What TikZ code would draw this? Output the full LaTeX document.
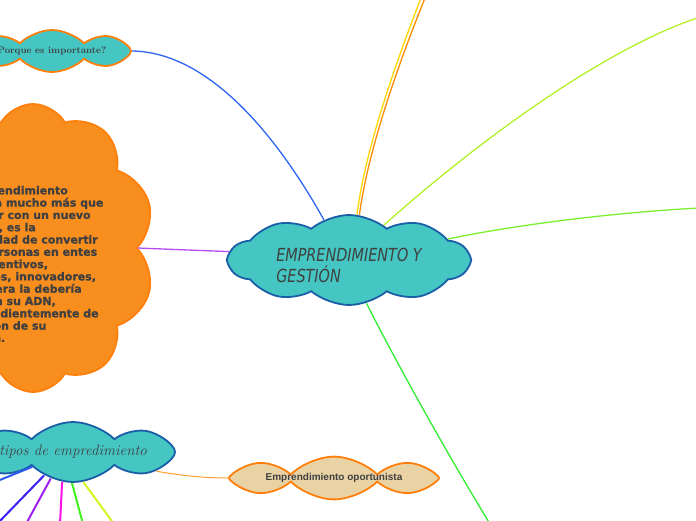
\documentclass[tikz,border=0pt]{standalone}
\usepackage{fontspec}
\setsansfont{Liberation Sans}
\newfontfamily\handfont{DejaVu Sans}[FakeStretch=0.8]
\newfontfamily\ideafont{DejaVu Sans}[FakeBold=1.2]
\usetikzlibrary{shapes.symbols}

\definecolor{mmteal}{HTML}{45C6C2}
\definecolor{mmblue}{HTML}{1A5EA8}
\definecolor{mmorange}{HTML}{FF7F0A}
\definecolor{mmfill}{HTML}{F78E1E}
\definecolor{mmtan}{HTML}{E9D3A5}
\definecolor{mmink}{HTML}{404040}

\tikzset{
  cloudnode/.style={cloud, cloud puffs=8, cloud puff arc=90, shape border rotate=22.5,
    cloud ignores aspect, draw, line width=1.8pt, inner sep=0pt, text=mmink},
  tealcloud/.style={cloudnode, fill=mmteal, draw=mmblue},
  link/.style={line width=1.3pt},
  twig/.style={line width=2pt},
}

\begin{document}
\begin{tikzpicture}[x=1pt,y=-1pt]
  \clip (0,0) rectangle (696,520);
  % topics
  \node[tealcloud, cloud puffs=10, cloud puff arc=80, shape border rotate=18,
    minimum width=240pt, minimum height=90pt, align=left,
    font=\handfont\itshape\fontsize{18}{21}\selectfont] (main) at (349,260)
    {\rule{0pt}{24pt}EMPRENDIMIENTO Y\\GESTIÓN};
  \node[cloudnode, fill=mmteal, draw=mmorange, minimum width=158pt,
    minimum height=42pt, font=\bfseries\fontsize{9.5}{11}\selectfont] (why) at (52,51)
    {Porque es importante?};
  \node[cloudnode, fill=mmfill, draw=mmorange, cloud puffs=10, cloud puff arc=120,
    shape border rotate=0, minimum width=244pt, minimum height=288pt] (idea) at (33,248) {};
  \node[anchor=west, inner sep=0pt, align=left, text=mmink,
    font=\ideafont\bfseries\fontsize{11}{12.3}\selectfont] (ideatext) at (-50,264)
    {El emprendimiento\\significa mucho más que\\empezar con un nuevo\\negocio, es la\\
     posibilidad de convertir\\a las personas en entes\\más inventivos,\\
     creativos, innovadores,\\cualquiera la debería\\tener en su ADN,\\
     independientemente de\\profesión de su\\elección.};
  \node[tealcloud, minimum width=204pt, minimum height=60pt,
    font=\itshape\fontsize{15}{18}\selectfont] (types) at (73,452) {tipos de empredimiento};
  \node[cloudnode, fill=mmtan, draw=mmorange, minimum width=210pt,
    minimum height=40pt, font=\sffamily\bfseries\fontsize{10}{12}\selectfont] (oport)
    at (334,478) {Emprendimiento oportunista};

  % free ends at the edges
  \coordinate (edgeY) at (421,-2);
  \coordinate (edgeO) at (425,-2);
  \coordinate (edgeLime) at (700,17);
  \coordinate (edgeGreen) at (700,208);
  \coordinate (edgeDown) at (490,524);
  \coordinate (tw1) at (-10,484);
  \coordinate (tw2) at (-3,524);
  \coordinate (tw3) at (26,524);
  \coordinate (tw4) at (60,524);
  \coordinate (tw5) at (83,524);
  \coordinate (tw6) at (114,524);

  % connectors
  \draw[link, draw={rgb,255:red,46;green,100;blue,240}] (why.east) .. controls (215,52) and (285,150) .. (main.122);
  \draw[link, draw={rgb,255:red,180;green,76;blue,240}] (idea.east) -- (main.176);
  \draw[link, draw={rgb,255:red,255;green,215;blue,0}] (main.80) .. controls (365,150) and (395,65) .. (edgeY);
  \draw[link, draw={rgb,255:red,255;green,140;blue,0}] (main.77) .. controls (368,150) and (398,65) .. (edgeO);
  \draw[link, draw={rgb,255:red,180;green,240;blue,42}] (main.45) .. controls (470,148) and (600,50) .. (edgeLime);
  \draw[link, draw={rgb,255:red,124;green,240;blue,48}] (main.12) .. controls (520,224) and (620,212) .. (edgeGreen);
  \draw[link, draw={rgb,255:red,50;green,238;blue,50}] (main.292) .. controls (395,360) and (445,450) .. (edgeDown);
  \draw[line width=1pt, draw={rgb,255:red,255;green,160;blue,48}] (types.347) .. controls (185,476) and (205,478) .. (oport.west);
  \draw[twig, draw={rgb,255:red,46;green,92;blue,240}] (types.200) -- (tw1);
  \draw[twig, draw={rgb,255:red,58;green,30;blue,245}] (types.219) -- (tw2);
  \draw[twig, draw={rgb,255:red,160;green,32;blue,240}] (types.230) -- (tw3);
  \draw[twig, draw={rgb,255:red,255;green,16;blue,232}] (types.250) -- (tw4);
  \draw[twig, draw={rgb,255:red,68;green,240;blue,32}] (types.268) -- (tw5);
  \draw[twig, draw={rgb,255:red,212;green,245;blue,32}] (types.289) -- (tw6);
\end{tikzpicture}
\end{document}
